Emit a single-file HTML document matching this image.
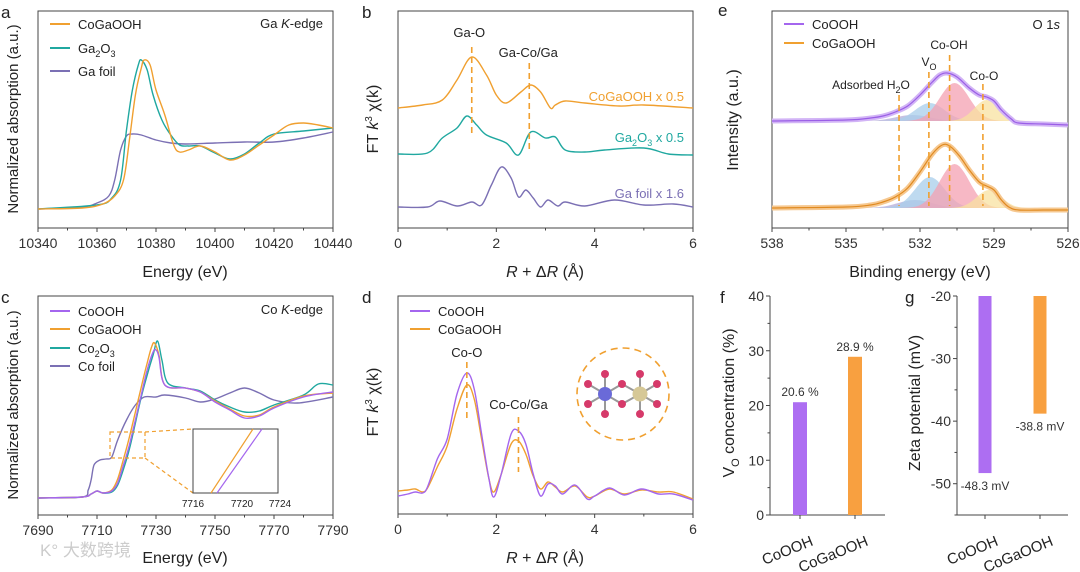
<!DOCTYPE html>
<html><head><meta charset="utf-8">
<style>
html,body{margin:0;padding:0;background:#fff;}
svg{display:block;font-family:"Liberation Sans","Noto Sans CJK SC",sans-serif;}
</style></head>
<body>
<svg id="fig" width="1080" height="572" viewBox="0 0 1080 572"></svg>
<script>
// ---------- DATA ----------
// panel a (Ga K-edge)
const aEnergyGaCo = [10340,10355,10362,10366,10369,10371,10373,10375,10376,10378,10380,10383,10386,10388,10391,10395,10400,10405,10410,10415,10420,10425,10430,10435,10440];
const aCoGaOOH = [19,20,24,32,48,88,133,160,168,163,138,113,83,76,78,82,76,68,73,83,93,103,105,103,100];
const aEnergyGa2O3 = [10340,10360,10365,10368,10370,10372,10374,10375,10377,10379,10382,10385,10388,10391,10395,10400,10405,10410,10415,10420,10430,10440];
const aGa2O3 = [19,23,30,48,98,138,163,168,158,133,108,93,83,82,82,75,69,74,85,94,97,100];
const aEnergyFoil = [10340,10355,10360,10364,10366,10368,10370,10372,10375,10380,10385,10390,10400,10410,10420,10430,10440];
const aGaFoil = [19,21,25,32,48,78,92,94,93,88,85,84,85,86,86,90,96];
// panel b (Ga FT)
const bR1 = [0,0.5,0.9,1.2,1.5,1.8,2.0,2.2,2.5,2.7,2.9,3.1,3.2,3.4,3.8,4.5,5,6];
const bCoGaOOH = [120,123,128,148,171,153,133,125,136,143,136,120,123,127,125,122,123,120];
const bR2 = [0,0.6,0.9,1.2,1.4,1.6,1.8,2.2,2.45,2.7,3.0,3.2,3.4,3.8,4.2,5,5.5,6];
const bGa2O3 = [74,75,90,100,112,103,93,85,73,96,90,91,78,76,78,80,74,73];
const bR3 = [0,0.6,0.85,1.2,1.5,1.7,1.9,2.1,2.3,2.45,2.6,2.75,2.9,3.05,3.25,3.4,3.8,4.4,5,5.6,6];
const bGaFoil = [21,21,27,22,26,23,43,61,50,31,38,30,21,28,22,26,22,28,23,24,21];
// panel c (Co K-edge)
const cE1 = [7690,7705,7708,7710,7712,7715,7717,7719,7721,7723,7725,7727,7729,7730,7731,7733,7740,7745,7750,7755,7760,7765,7770,7780,7790];
const cCoOOH = [17,18,21,24,22,24,32,50,70,95,120,145,163,165,158,130,127,123,113,105,97,99,107,118,123];
const cE2 = [7690,7705,7708,7710,7712,7715,7717,7719,7721,7723,7725,7727,7728.5,7729.5,7731,7733,7740,7745,7750,7755,7760,7765,7770,7780,7790];
const cCoGaOOH = [17,18,21,24,22,25,36,56,78,103,128,152,168,172,160,130,127,123,114,106,99,100,108,119,122];
const cE3 = [7690,7705,7708,7710,7712,7715,7717,7719,7721,7723,7725,7727,7729,7730.5,7732,7734,7740,7745,7750,7755,7760,7765,7770,7780,7785,7790];
const cCo2O3 = [17,18,21,24,22,23,30,46,66,92,118,140,160,174,155,132,127,124,115,108,103,104,110,120,131,130];
const cE4 = [7690,7705,7707,7708,7709,7711,7713,7715,7717,7720,7723,7726,7730,7733,7740,7745,7750,7755,7760,7765,7770,7778,7790];
const cCoFoil = [17,18,25,35,50,55,56,58,75,95,110,118,118,120,117,113,116,122,127,122,115,112,118];
// panel d (Co FT)
const dR = [0,0.2,0.35,0.5,0.6,0.8,1.0,1.2,1.4,1.55,1.7,1.85,1.95,2.1,2.3,2.45,2.6,2.75,2.9,3.05,3.2,3.35,3.6,3.85,4.0,4.3,4.6,4.95,5.3,5.6,6];
const dCoOOH = [18,20,22,21,27,55,75,120,141,125,80,35,17,40,80,83,70,40,18,30,28,20,29,15,18,26,19,25,20,20,14];
const dCoGaOOH = [23,24,25,22,26,47,68,105,129,115,75,35,22,40,70,73,60,38,25,32,27,22,28,17,18,25,20,24,22,22,15];
// panel e (O 1s XPS)
const eBE1 = [538,535,534,533.5,533,532.5,532,531.5,531.2,530.9,530.5,530,529.6,529.3,529,528.7,528.3,528,527,526];
const eCoOOH = [107,108,110,112,116,122,133,146,153,155,151,140,133,131,127,118,109,105,104,103];
const eBE2 = [538,535,534,533.5,533,532.5,532,531.5,531.1,530.8,530.4,530,529.6,529.3,529,528.7,528.4,528,527,526];
const eCoGaOOH = [20,21,23,26,31,40,56,74,83,82,72,58,46,42,38,28,21,18,18,18];
const eCompNames = ["H2O","Vo","Co-OH","Co-O"];
const eCenters1 = [532.3,531.6,530.6,529.3];
const eAmps1 = [6,18,38,21];
const eCenters2 = [532.2,531.6,530.6,529.2];
const eAmps2 = [8,31,44,18];
const eSigmas = [0.7,0.6,0.6,0.5];
// panel f / g bars
const fCats = ["CoOOH","CoGaOOH"];
const fVals = [20.6,28.9];
const fTicks = [0,10,20,30,40];
const gVals = [-48.3,-38.8];
const gTicks = [-20,-30,-40,-50];

// ---------- HELPERS ----------
const NS='http://www.w3.org/2000/svg';
const svg=document.getElementById('fig');
function mk(tag,attrs,name,parent){
  const el=document.createElementNS(NS,tag);
  for(const k in attrs) el.setAttribute(k,attrs[k]);
  
  
  (parent||svg).appendChild(el);
  return el;
}
function txt(x,y,s,name,o){
  o=o||{};
  const el=mk('text',{x:x,y:y,'font-size':o.size||13,fill:o.fill||'#222','text-anchor':o.anchor||'start'},name);
  if(o.rot) el.setAttribute('transform','rotate('+o.rot+' '+x+' '+y+')');
  if(o.italic) el.setAttribute('font-style','italic');
  el.innerHTML=s;
  return el;
}
function lin(d0,d1,r0,r1){return v=>r0+(v-d0)/(d1-d0)*(r1-r0);}
function smooth(pts){
  let d='M'+pts[0][0].toFixed(1)+','+pts[0][1].toFixed(1);
  for(let i=0;i<pts.length-1;i++){
    const p0=pts[i-1]||pts[i],p1=pts[i],p2=pts[i+1],p3=pts[i+2]||p2;
    const c1=[p1[0]+(p2[0]-p0[0])/6,p1[1]+(p2[1]-p0[1])/6];
    const c2=[p2[0]-(p3[0]-p1[0])/6,p2[1]-(p3[1]-p1[1])/6];
    d+='C'+c1[0].toFixed(1)+','+c1[1].toFixed(1)+' '+c2[0].toFixed(1)+','+c2[1].toFixed(1)+' '+p2[0].toFixed(1)+','+p2[1].toFixed(1);
  }
  return d;
}
function curve(xs,ys,X,Y,color,name,w){
  const pts=xs.map((x,i)=>[X(x),Y(ys[i])]);
  return mk('path',{d:smooth(pts),fill:'none',stroke:color,'stroke-width':w||1.4},name);
}
function frame(x0,y0,x1,y1,name){
  mk('rect',{x:x0,y:y0,width:x1-x0,height:y1-y0,fill:'none',stroke:'#444','stroke-width':1},name);
}
function xticks(X,y,majors,minors,name,labelsFmt){
  majors.forEach(v=>{
    mk('line',{x1:X(v),x2:X(v),y1:y,y2:y+4,stroke:'#444'},name+'-tick');
    txt(X(v),y+20,labelsFmt?labelsFmt(v):v,name+'-label',{anchor:'middle',size:14,fill:'#333'});
  });
  minors.forEach(v=>mk('line',{x1:X(v),x2:X(v),y1:y,y2:y+2.5,stroke:'#444'},name+'-minor-tick'));
}
function yticks(Y,x,majors,minors,name){
  majors.forEach(v=>{
    mk('line',{x1:x-4,x2:x,y1:Y(v),y2:Y(v),stroke:'#444'},name+'-tick');
    txt(x-6,Y(v)+5,v,name+'-label',{anchor:'end',size:14,fill:'#333'});
  });
  minors.forEach(v=>mk('line',{x1:x-2.5,x2:x,y1:Y(v),y2:Y(v),stroke:'#444'},name+'-minor-tick'));
}
function dash(x,y1,y2,name){
  mk('line',{x1:x,x2:x,y1:y1,y2:y2,stroke:'#f0a030','stroke-width':1.6,'stroke-dasharray':'6,4'},name);
}
function legend(x,y,color,label,name){
  mk('line',{x1:x,x2:x+20,y1:y,y2:y,stroke:color,'stroke-width':2},name+'-swatch');
  txt(x+28,y+5,label,name+'-label',{size:13});
}
const OR='#f0a030',TEAL='#20a8a0',FOIL='#7b70b4',PUR='#a466ee';

// ---------- PANEL A ----------
(function(){
  const X=lin(10340,10440,38,333),Y=lin(0,217,228,11);
  frame(38,11,333,228,'panel-a-frame');
  const mj=[10340,10360,10380,10400,10420,10440],mn=[10350,10370,10390,10410,10430];
  xticks(X,228,mj,mn,'panel-a-x');
  txt(185,277,'Energy (eV)','panel-a-x-title',{anchor:'middle',size:16});
  txt(18,119,'Normalized absorption (a.u.)','panel-a-y-title',{anchor:'middle',size:15,rot:-90});
  txt(1,18,'a','panel-a-letter',{size:17});
  curve(aEnergyFoil,aGaFoil,X,Y,FOIL,'ga-foil-line');
  curve(aEnergyGa2O3,aGa2O3,X,Y,TEAL,'ga2o3-line');
  curve(aEnergyGaCo,aCoGaOOH,X,Y,OR,'cogaooh-line');
  legend(50,24,OR,'CoGaOOH','legend-a-cogaooh');
  legend(50,48,TEAL,'Ga<tspan dy="4" font-size="9">2</tspan><tspan dy="-4">O</tspan><tspan dy="4" font-size="9">3</tspan>','legend-a-ga2o3');
  legend(50,71,FOIL,'Ga foil','legend-a-ga-foil');
  txt(323,28,'Ga <tspan font-style="italic">K</tspan>-edge','panel-a-annotation',{anchor:'end'});
})();

// ---------- PANEL B ----------
(function(){
  const X=lin(0,6,398,693),Y=lin(0,217,228,11);
  frame(398,11,693,228,'panel-b-frame');
  xticks(X,228,[0,2,4,6],[1,3,5],'panel-b-x');
  txt(545,277,'<tspan font-style="italic">R</tspan> + Δ<tspan font-style="italic">R</tspan> (Å)','panel-b-x-title',{anchor:'middle',size:16});
  txt(378,119,'FT <tspan font-style="italic">k</tspan><tspan dy="-6" font-size="10">3</tspan><tspan dy="6"> χ(k)</tspan>','panel-b-y-title',{anchor:'middle',size:16,rot:-90});
  txt(362,18,'b','panel-b-letter',{size:17});
  curve(bR3,bGaFoil,X,Y,FOIL,'b-ga-foil-line');
  curve(bR2,bGa2O3,X,Y,TEAL,'b-ga2o3-line');
  curve(bR1,bCoGaOOH,X,Y,OR,'b-cogaooh-line');
  dash(X(1.5),47,135,'ga-o-marker');
  dash(X(2.67),63,152,'ga-coga-marker');
  txt(X(1.45),37,'Ga-O','ga-o-label',{anchor:'middle'});
  txt(X(2.65),57,'Ga-Co/Ga','ga-coga-label',{anchor:'middle'});
  txt(684,101,'CoGaOOH x 0.5','b-cogaooh-scale-label',{anchor:'end',fill:OR,size:13});
  txt(684,142,'Ga<tspan dy="4" font-size="9">2</tspan><tspan dy="-4">O</tspan><tspan dy="4" font-size="9">3</tspan><tspan dy="-4"> x 0.5</tspan>','b-ga2o3-scale-label',{anchor:'end',fill:TEAL,size:13});
  txt(684,198,'Ga foil x 1.6','b-foil-scale-label',{anchor:'end',fill:FOIL,size:13});
})();

// ---------- PANEL C ----------
(function(){
  const X=lin(7690,7790,38,333),Y=lin(0,219,515,296);
  frame(38,296,333,515,'panel-c-frame');
  xticks(X,515,[7690,7710,7730,7750,7770,7790],[7700,7720,7740,7760,7780],'panel-c-x');
  txt(185,563,'Energy (eV)','panel-c-x-title',{anchor:'middle',size:16});
  txt(18,405,'Normalized absorption (a.u.)','panel-c-y-title',{anchor:'middle',size:15,rot:-90});
  txt(1,303,'c','panel-c-letter',{size:17});
  curve(cE4,cCoFoil,X,Y,FOIL,'co-foil-line');
  curve(cE3,cCo2O3,X,Y,TEAL,'co2o3-line');
  curve(cE2,cCoGaOOH,X,Y,OR,'c-cogaooh-line');
  curve(cE1,cCoOOH,X,Y,PUR,'c-cooh-line');
  // zoom box & inset
  mk('rect',{x:110,y:432,width:35,height:26,fill:'none',stroke:OR,'stroke-width':1.2,'stroke-dasharray':'4,3'},'zoom-box');
  mk('line',{x1:145,y1:432,x2:193,y2:429,stroke:OR,'stroke-width':1.2,'stroke-dasharray':'4,3'},'zoom-connector-top');
  mk('line',{x1:145,y1:458,x2:193,y2:493,stroke:OR,'stroke-width':1.2,'stroke-dasharray':'4,3'},'zoom-connector-bottom');
  mk('rect',{x:193,y:429,width:85,height:64,fill:'#fff',stroke:'#444','stroke-width':1},'inset-frame');
  mk('line',{x1:211,y1:493,x2:253,y2:429,stroke:OR,'stroke-width':1.2},'inset-cogaooh-line');
  mk('line',{x1:217,y1:493,x2:262,y2:429,stroke:PUR,'stroke-width':1.2},'inset-cooh-line');
  txt(193,507,'7716','inset-tick-label',{anchor:'middle',size:10});
  txt(242,507,'7720','inset-tick-label',{anchor:'middle',size:10});
  txt(280,507,'7724','inset-tick-label',{anchor:'middle',size:10});
  legend(50,311,PUR,'CoOOH','legend-c-cooh');
  legend(50,329,OR,'CoGaOOH','legend-c-cogaooh');
  legend(50,348,TEAL,'Co<tspan dy="4" font-size="9">2</tspan><tspan dy="-4">O</tspan><tspan dy="4" font-size="9">3</tspan>','legend-c-co2o3');
  legend(50,366,FOIL,'Co foil','legend-c-co-foil');
  txt(323,314,'Co <tspan font-style="italic">K</tspan>-edge','panel-c-annotation',{anchor:'end'});
  txt(40,556,'K° 大数跨境','watermark',{size:17,fill:'#ccc'});
})();

// ---------- PANEL D ----------
(function(){
  const X=lin(0,6,398,693),Y=lin(0,218,514,296);
  frame(398,296,693,514,'panel-d-frame');
  xticks(X,514,[0,2,4,6],[1,3,5],'panel-d-x');
  txt(545,563,'<tspan font-style="italic">R</tspan> + Δ<tspan font-style="italic">R</tspan> (Å)','panel-d-x-title',{anchor:'middle',size:16});
  txt(378,402,'FT <tspan font-style="italic">k</tspan><tspan dy="-6" font-size="10">3</tspan><tspan dy="6"> χ(k)</tspan>','panel-d-y-title',{anchor:'middle',size:16,rot:-90});
  txt(362,303,'d','panel-d-letter',{size:17});
  curve(dR,dCoGaOOH,X,Y,OR,'d-cogaooh-line');
  curve(dR,dCoOOH,X,Y,PUR,'d-cooh-line');
  dash(X(1.4),362,418,'co-o-marker');
  dash(X(2.45),417,472,'co-coga-marker');
  txt(X(1.4),357,'Co-O','co-o-label',{anchor:'middle'});
  txt(X(2.45),409,'Co-Co/Ga','co-coga-label',{anchor:'middle'});
  legend(410,311,PUR,'CoOOH','legend-d-cooh');
  legend(410,329,OR,'CoGaOOH','legend-d-cogaooh');
  // structure inset
  const g=mk('g',{},'structure-inset');
  mk('circle',{cx:623,cy:394,r:46,fill:'none',stroke:OR,'stroke-width':1.6,'stroke-dasharray':'7,5'},'structure-circle',g);
  const Os=[[605,374],[605,414],[588,384],[588,404],[622,384],[622,404],[640,374],[640,414],[657,384],[657,404]];
  Os.forEach(p=>{
    const c=p[0]<623||p[0]===622?[605,394]:[640,394];
    mk('line',{x1:c[0],y1:c[1],x2:p[0],y2:p[1],stroke:'#999','stroke-width':2},'bond',g);
  });
  mk('line',{x1:622,y1:384,x2:640,y2:394,stroke:'#999','stroke-width':2},'bond',g);
  mk('line',{x1:622,y1:404,x2:640,y2:394,stroke:'#999','stroke-width':2},'bond',g);
  Os.forEach(p=>mk('circle',{cx:p[0],cy:p[1],r:4,fill:'#d63a6a'},'oxygen-atom',g));
  mk('circle',{cx:605,cy:394,r:7,fill:'#6a6ad8'},'cobalt-atom',g);
  mk('circle',{cx:640,cy:394,r:7.5,fill:'#d6c896'},'gallium-atom',g);
})();

// ---------- PANEL E ----------
(function(){
  const X=lin(538,526,772,1068),Y=lin(0,217,228,11);
  frame(772,11,1068,228,'panel-e-frame');
  xticks(X,228,[538,535,532,529,526],[536.5,533.5,530.5,527.5],'panel-e-x');
  txt(920,277,'Binding energy (eV)','panel-e-x-title',{anchor:'middle',size:16});
  txt(738,120,'Intensity (a.u.)','panel-e-y-title',{anchor:'middle',size:16,rot:-90});
  txt(718,16,'e','panel-e-letter',{size:17});
  const cols=['#b4acd8','#a8cdeb','#f4a0b2','#f8e2a0'];
  function comps(centers,amps,base,tag){
    centers.forEach((c,i)=>{
      const pts=[];
      for(let b=c+2.2;b>=c-2.2;b-=0.1){
        pts.push([X(b),Y(base+amps[i]*Math.exp(-((b-c)**2)/(2*eSigmas[i]**2)))]);
      }
      let d='M'+X(c+2.2)+','+Y(base);
      pts.forEach(p=>d+='L'+p[0].toFixed(1)+','+p[1].toFixed(1));
      d+='L'+X(c-2.2)+','+Y(base)+'Z';
      mk('path',{d:d,fill:cols[i],'fill-opacity':0.75},tag+'-'+eCompNames[i].toLowerCase()+'-peak');
    });
  }
  comps(eCenters1,eAmps1,107,'cooh');
  comps(eCenters2,eAmps2,20,'cogaooh');
  curve(eBE1,eCoOOH,X,Y,'#d2b4f6','cooh-xps-halo',5);
  curve(eBE1,eCoOOH,X,Y,'#9a5ee6','cooh-xps-line',1.2);
  curve(eBE2,eCoGaOOH,X,Y,'#f6c890','cogaooh-xps-halo',5);
  curve(eBE2,eCoGaOOH,X,Y,'#e08a20','cogaooh-xps-line',1.2);
  dash(X(532.85),95,206,'h2o-marker');
  dash(X(531.64),72,206,'vo-marker');
  dash(X(530.8),55,206,'co-oh-marker');
  dash(X(529.45),84,206,'co-o-marker');
  txt(871,89,'Adsorbed H<tspan dy="4" font-size="9">2</tspan><tspan dy="-4">O</tspan>','adsorbed-h2o-label',{anchor:'middle',size:12});
  txt(929,66,'V<tspan dy="4" font-size="9">O</tspan>','vo-label',{anchor:'middle',size:12});
  txt(949,49,'Co-OH','co-oh-label',{anchor:'middle',size:12});
  txt(984,80,'Co-O','co-o-label-e',{anchor:'middle',size:12});
  txt(1060,29,'O 1<tspan font-style="italic">s</tspan>','panel-e-annotation',{anchor:'end'});
  legend(784,24,PUR,'CoOOH','legend-e-cooh');
  legend(784,43,OR,'CoGaOOH','legend-e-cogaooh');
})();

// ---------- PANEL F ----------
(function(){
  const X=lin(0,1,800,855),Y=lin(0,40,515,296);
  mk('line',{x1:770,y1:296,x2:770,y2:515,stroke:'#444'},'panel-f-y-axis');
  mk('line',{x1:770,y1:515,x2:885,y2:515,stroke:'#444'},'panel-f-x-axis');
  yticks(Y,770,fTicks,[5,15,25,35],'panel-f-y');
  txt(734,403,'V<tspan dy="5" font-size="11">O</tspan><tspan dy="-5"> concentration (%)</tspan>','panel-f-y-title',{anchor:'middle',size:16,rot:-90});
  txt(720,303,'f','panel-f-letter',{size:17});
  const cols=['#ad6ef2','#f8a040'];
  fVals.forEach((v,i)=>{
    const b=mk('rect',{x:X(i)-7,y:Y(v),width:14,height:Y(0)-Y(v),fill:cols[i]},'bar-f-'+fCats[i].toLowerCase());
    txt(X(i),Y(v)-6,v.toFixed(1)+' %','bar-f-value-'+fCats[i].toLowerCase(),{anchor:'middle',size:12,fill:'#333'});
    mk('line',{x1:X(i),x2:X(i),y1:515,y2:519,stroke:'#444'},'panel-f-x-tick');
    txt(X(i)+14,545,fCats[i],'panel-f-x-label',{anchor:'end',size:15,rot:-22});
  });
})();

// ---------- PANEL G ----------
(function(){
  const X=lin(0,1,985,1040),Y=lin(-20,-55,296,515);
  mk('line',{x1:957,y1:296,x2:957,y2:515,stroke:'#444'},'panel-g-y-axis');
  mk('line',{x1:957,y1:515,x2:1068,y2:515,stroke:'#444'},'panel-g-x-axis');
  yticks(Y,957,gTicks,[-25,-35,-45,-55],'panel-g-y');
  txt(920,403,'Zeta potential (mV)','panel-g-y-title',{anchor:'middle',size:16,rot:-90});
  txt(905,303,'g','panel-g-letter',{size:17});
  const cols=['#ad6ef2','#f8a040'];
  gVals.forEach((v,i)=>{
    mk('rect',{x:X(i)-6.5,y:Y(-20),width:13,height:Y(v)-Y(-20),fill:cols[i]},'bar-g-'+fCats[i].toLowerCase());
    txt(X(i),Y(v)+17,v.toFixed(1)+' mV','bar-g-value-'+fCats[i].toLowerCase(),{anchor:'middle',size:12,fill:'#333'});
    mk('line',{x1:X(i),x2:X(i),y1:515,y2:519,stroke:'#444'},'panel-g-x-tick');
    txt(X(i)+14,545,fCats[i],'panel-g-x-label',{anchor:'end',size:15,rot:-22});
  });
})();
</script>
</body></html>
